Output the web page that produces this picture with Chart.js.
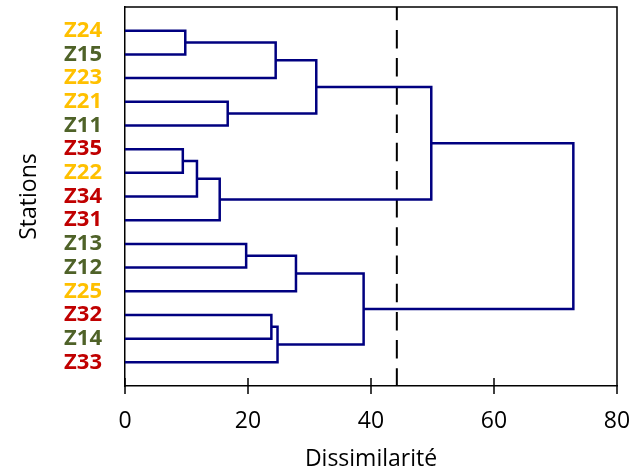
<!DOCTYPE html>
<html>
<head>
<meta charset="utf-8">
<script src="https://cdn.jsdelivr.net/npm/chart.js@4.4.0/dist/chart.umd.min.js"></script>
<style>
  html, body { margin: 0; padding: 0; background: #fff; }
</style>
</head>
<body>
<canvas id="dendro" width="635" height="474"></canvas>
<script>
// leaf order, top to bottom
const stations = ['Z24', 'Z15', 'Z23', 'Z21', 'Z11', 'Z35', 'Z22', 'Z34', 'Z31',
                  'Z13', 'Z12', 'Z25', 'Z32', 'Z14', 'Z33'];

// colour of the label depends on the zone (second char of the name)
const zoneColors = { '1': '#4F6228', '2': '#FFC000', '3': '#C00000' };

// merges: m1 = first row, m2 = second row, ...
const linkLeft   = ['Z24', 'm1',  'Z21', 'm2', 'Z35', 'm5', 'm6', 'm4', 'Z13', 'm9', 'Z32', 'm11', 'm10', 'm8'];
const linkRight  = ['Z15', 'Z23', 'Z11', 'm3', 'Z22', 'Z34', 'Z31', 'm7', 'Z12', 'Z25', 'Z14', 'Z33', 'm12', 'm13'];
const linkHeight = [9.8,   24.5,  16.7,  31.1, 9.4,   11.7,  15.4,  49.8, 19.7,  27.8,  23.8,  24.8,  38.8,  72.9];

const cutoff = 44.2;
const xTicks = [0, 20, 40, 60, 80];

// node positions
let pos = {};
stations.forEach((s, i) => { pos[s] = { x: 0, y: i + 1 }; });

let datasets = [];
linkLeft.forEach((l, i) => {
  const a = pos[l], b = pos[linkRight[i]], h = linkHeight[i];
  pos['m' + (i + 1)] = { x: h, y: (a.y + b.y) / 2 };
  datasets.push({
    data: [{ x: a.x, y: a.y }, { x: h, y: a.y }, { x: h, y: b.y }, { x: b.x, y: b.y }],
    showLine: true,
    borderColor: '#000080',
    borderWidth: 2.5,
    pointRadius: 0,
    tension: 0
  });
});

datasets.push({
  data: [{ x: cutoff, y: 0 }, { x: cutoff, y: stations.length + 1 }],
  showLine: true,
  borderColor: '#000',
  borderWidth: 2,
  borderDash: [18.5, 9.7],
  borderDashOffset: 5.3,
  pointRadius: 0
});

const frame = {
  id: 'frame',
  afterDatasetsDraw(chart) {
    const { ctx, chartArea: a, scales: { x } } = chart;
    ctx.save();
    ctx.strokeStyle = '#000';
    ctx.lineWidth = 1.5;
    ctx.beginPath();
    ctx.moveTo(a.left, a.top);
    ctx.lineTo(a.right, a.top);
    ctx.lineTo(a.right, a.bottom);
    x.ticks.forEach(t => {
      const px = x.getPixelForValue(t.value);
      ctx.moveTo(px, a.bottom - 8);
      ctx.lineTo(px, a.bottom + 8);
    });
    ctx.stroke();
    ctx.restore();
  }
};

const chart = new Chart(document.getElementById('dendro'), {
  type: 'scatter',
  data: { datasets: datasets },
  plugins: [frame],
  options: {
    responsive: false,
    animation: false,
    layout: { padding: { top: 7, right: 18, left: 0, bottom: 0 } },
    plugins: { legend: { display: false }, tooltip: { enabled: false } },
    scales: {
      x: {
        type: 'linear',
        min: 0,
        max: 80,
        afterBuildTicks: s => { s.ticks = xTicks.map(v => ({ value: v })); },
        afterFit: s => { s.height = 88; s.paddingLeft = 0; s.paddingRight = 0; },
        grid: { display: false, drawTicks: false },
        border: { display: true, color: '#000', width: 1.5 },
        ticks: {
          padding: 22,
          color: '#000',
          font: { family: 'Open Sans', size: 23 }
        },
        title: {
          display: true,
          text: 'Dissimilarité',
          color: '#000',
          font: { family: 'Open Sans', size: 23 },
          padding: { top: 0, bottom: 1 }
        }
      },
      y: {
        type: 'linear',
        reverse: true,
        min: 0,
        max: stations.length + 1,
        afterBuildTicks: s => { s.ticks = stations.map((_, i) => ({ value: i + 1 })); },
        afterFit: s => { s.width = 125; s.paddingTop = 0; s.paddingBottom = 0; },
        grid: { display: false, drawTicks: false },
        border: { display: true, color: '#000', width: 1.5 },
        ticks: {
          autoSkip: false,
          padding: 23,
          color: c => zoneColors[stations[c.index][1]],
          font: { family: 'Open Sans', size: 22, weight: 'bold' },
          callback: (v, i) => stations[i]
        },
        title: {
          display: true,
          text: 'Stations',
          color: '#000',
          font: { family: 'Open Sans', size: 23 },
          padding: { top: 16, bottom: 0 }
        }
      }
    }
  }
});
</script>
</body>
</html>
